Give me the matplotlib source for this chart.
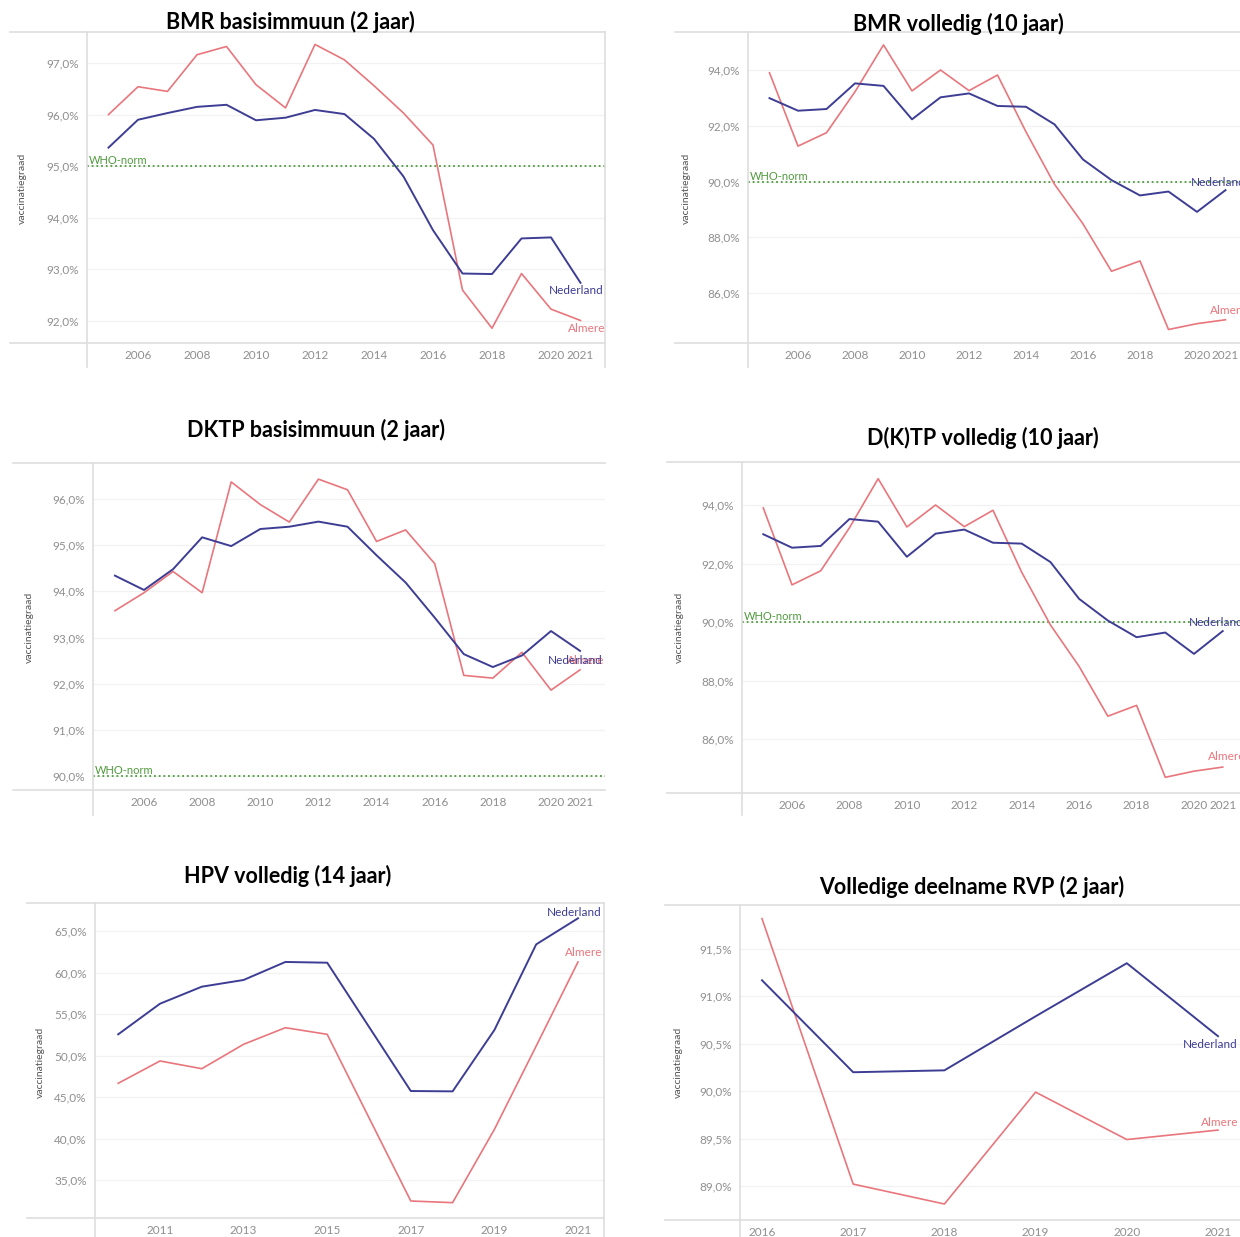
import numpy as np
import matplotlib
matplotlib.use("Agg")
import matplotlib.pyplot as plt
from matplotlib.lines import Line2D
from matplotlib.ticker import FuncFormatter

W, H = 1240, 1237

# --- data ---
jaren = list(range(2005, 2022))

bmr2_nl = [95.36, 95.90, 96.03, 96.15, 96.19, 95.89, 95.94, 96.09, 96.01,
           95.53, 94.80, 93.76, 92.92, 92.91, 93.60, 93.62, 92.74]
bmr2_almere = [96.00, 96.54, 96.45, 97.16, 97.32, 96.58, 96.13, 97.36, 97.06,
               96.56, 96.03, 95.41, 92.60, 91.86, 92.92, 92.23, 92.01]

bmr10_nl = [92.99, 92.54, 92.60, 93.52, 93.43, 92.23, 93.02, 93.16, 92.71,
            92.68, 92.05, 90.79, 90.05, 89.50, 89.64, 88.91, 89.69]
bmr10_almere = [93.90, 91.27, 91.75, 93.22, 94.90, 93.25, 94.00, 93.26, 93.82,
                91.78, 89.90, 88.48, 86.78, 87.15, 84.69, 84.90, 85.04]

dktp2_nl = [94.34, 94.03, 94.48, 95.17, 94.98, 95.35, 95.40, 95.51, 95.40,
            94.78, 94.19, 93.43, 92.64, 92.36, 92.61, 93.14, 92.71]
dktp2_almere = [93.58, 93.97, 94.43, 93.97, 96.37, 95.88, 95.50, 96.43, 96.20,
                95.08, 95.33, 94.60, 92.18, 92.12, 92.68, 91.86, 92.30]

dktp10_nl = [93.00, 92.54, 92.60, 93.52, 93.43, 92.23, 93.02, 93.16, 92.71,
             92.68, 92.05, 90.79, 90.05, 89.48, 89.64, 88.91, 89.69]
dktp10_almere = [93.90, 91.27, 91.75, 93.22, 94.90, 93.25, 94.00, 93.26, 93.82,
                 91.70, 89.90, 88.48, 86.78, 87.15, 84.69, 84.90, 85.04]

hpv_jaren = list(range(2010, 2022))
hpv_nl = [52.55, 56.24, 58.29, 59.10, 61.27, 61.18, 53.45, 45.72, 45.68,
          53.07, 63.39, 66.53]
hpv_almere = [46.65, 49.34, 48.41, 51.35, 53.35, 52.55, 42.50, 32.47, 32.27,
              41.10, 51.14, 61.27]

rvp_jaren = list(range(2016, 2022))
rvp_nl = [91.17, 90.20, 90.22, 90.79, 91.35, 90.58]
rvp_almere = [91.82, 89.02, 88.81, 89.99, 89.49, 89.59]

plt.rcParams['font.family'] = ['Lato', 'DejaVu Sans']

C_NL = '#3d3d94'
C_AL = '#e8767c'
C_WHO = '#4f9a3e'
C_RAND = '#dedede'
C_TICK = '#8f8f8f'

fig = plt.figure(figsize=(W / 100, H / 100), dpi=100)
fig.patch.set_facecolor('white')


def fx(x):
    return x / W


def fy(y):
    return 1 - y / H


def lijn(x0, y0, x1, y1):
    fig.add_artist(Line2D([fx(x0), fx(x1)], [fy(y0), fy(y1)],
                          color=C_RAND, lw=1.2, transform=fig.transFigure))


def pct(v, pos):
    return f"{v:.1f}".replace('.', ',') + '%'


def paneel(box, xcal, ycal, x, nl, almere, yticks, xticks, norm=None):
    l, t, r, b = box
    ax = fig.add_axes([fx(l), fy(b), fx(r) - fx(l), fy(t) - fy(b)])
    (xv0, xp0), (xv1, xp1) = xcal
    sx = (xv1 - xv0) / (xp1 - xp0)
    ax.set_xlim(xv0 + (l - xp0) * sx, xv0 + (r - xp0) * sx)
    (yv0, yp0), (yv1, yp1) = ycal
    sy = (yv1 - yv0) / (yp1 - yp0)
    ax.set_ylim(yv0 + (b - yp0) * sy, yv0 + (t - yp0) * sy)
    ax.set_facecolor('none')
    for s in ax.spines.values():
        s.set_visible(False)
    ax.grid(axis='y', color='#f2f2f2', lw=0.9)
    ax.set_axisbelow(True)
    ax.set_yticks(yticks)
    ax.yaxis.set_major_formatter(FuncFormatter(pct))
    ax.set_xticks(xticks)
    ax.set_xticklabels([str(v) for v in xticks])
    ax.tick_params(length=0, labelsize=8.5, labelcolor=C_TICK)
    ax.tick_params(axis='x', pad=5)
    ax.tick_params(axis='y', pad=6)
    if norm is not None:
        ax.axhline(norm, color=C_WHO, ls=(0, (1, 1.6)), lw=1.3)
        ax.text(0.003, norm, 'WHO-norm', color=C_WHO, fontsize=8,
                va='bottom', ha='left',
                transform=ax.get_yaxis_transform())
    ax.plot(x, almere, color=C_AL, lw=1.2, clip_on=False)
    ax.plot(x, nl, color=C_NL, lw=1.4, clip_on=False)
    return ax


def label(x, y, tekst, kleur, ha='right'):
    fig.text(fx(x), fy(y), tekst, color=kleur, fontsize=8.5, ha=ha, va='center')


def titel(x, y, tekst):
    fig.text(fx(x), fy(y), tekst, fontsize=15.5, fontweight='bold',
             ha='center', va='center', color='black')


def ylabel(x, y):
    fig.text(fx(x), fy(y), 'vaccinatiegraad', rotation=90, fontsize=7.5,
             color='#555555', ha='center', va='center')


jt = list(range(2006, 2021, 2)) + [2021]

# 1. BMR basisimmuun (2 jaar)
lijn(10, 32, 605, 32); lijn(10, 343, 605, 343); lijn(87, 32, 87, 367); lijn(605, 32, 605, 367)
paneel((87, 32, 605, 343), ((2006, 138), (2020, 551)), ((97, 63), (92, 321)),
       jaren, bmr2_nl, bmr2_almere, [92, 93, 94, 95, 96, 97], jt, norm=95)
titel(290, 22, 'BMR basisimmuun (2 jaar)')
ylabel(22, 188)
label(604, 291, 'Nederland', C_NL)
label(605, 329, 'Almere', C_AL)

# 2. BMR volledig (10 jaar)
lijn(675, 32, 1240, 32); lijn(675, 343, 1240, 343); lijn(748, 32, 748, 367)
paneel((748, 32, 1262, 343), ((2006, 798), (2020, 1197)), ((94, 70), (86, 293)),
       jaren, bmr10_nl, bmr10_almere, [86, 88, 90, 92, 94], jt, norm=90)
titel(958, 24, 'BMR volledig (10 jaar)')
ylabel(686, 188)
label(1191, 182, 'Nederland', C_NL, ha='left')
label(1210, 311, 'Almere', C_AL, ha='left')

# 3. DKTP basisimmuun (2 jaar)
lijn(13, 463, 605, 463); lijn(13, 790, 605, 790); lijn(93, 463, 93, 815)
paneel((93, 463, 605, 790), ((2006, 144), (2020, 551)), ((96, 499), (90, 776)),
       jaren, dktp2_nl, dktp2_almere, [90, 91, 92, 93, 94, 95, 96], jt, norm=90)
titel(316, 430, 'DKTP basisimmuun (2 jaar)')
ylabel(29, 627)
label(604, 661, 'Almere', C_AL)
label(603, 661, 'Nederland', C_NL)

# 4. D(K)TP volledig (10 jaar)
lijn(667, 462, 1240, 462); lijn(667, 793, 1240, 793); lijn(742, 462, 742, 815)
paneel((742, 462, 1262, 793), ((2006, 792), (2020, 1194)), ((94, 505), (86, 739)),
       jaren, dktp10_nl, dktp10_almere, [86, 88, 90, 92, 94], jt, norm=90)
titel(983, 438, 'D(K)TP volledig (10 jaar)')
ylabel(679, 627)
label(1189, 622, 'Nederland', C_NL, ha='left')
label(1208, 757, 'Almere', C_AL, ha='left')

# 5. HPV volledig (14 jaar)
lijn(27, 903, 604, 903); lijn(27, 1218, 604, 1218); lijn(95, 903, 95, 1237); lijn(604, 903, 604, 1237)
paneel((95, 903, 604, 1218), ((2011, 160), (2021, 578)), ((65, 931), (35, 1180)),
       hpv_jaren, hpv_nl, hpv_almere, [35, 40, 45, 50, 55, 60, 65],
       list(range(2011, 2022, 2)))
titel(288, 876, 'HPV volledig (14 jaar)')
ylabel(40, 1062)
label(602, 912, 'Nederland', C_NL)
label(602, 953, 'Almere', C_AL)

# 6. Volledige deelname RVP (2 jaar)
lijn(665, 905, 1240, 905); lijn(665, 1220, 1240, 1220); lijn(740, 905, 740, 1237)
paneel((740, 905, 1262, 1220), ((2016, 762), (2021, 1218)), ((91.5, 949), (89.0, 1186)),
       rvp_jaren, rvp_nl, rvp_almere, [89.0, 89.5, 90.0, 90.5, 91.0, 91.5],
       rvp_jaren)
titel(972, 887, 'Volledige deelname RVP (2 jaar)')
ylabel(678, 1062)
label(1183, 1045, 'Nederland', C_NL, ha='left')
label(1201, 1122, 'Almere', C_AL, ha='left')

fig.savefig('out.png', dpi=100)
